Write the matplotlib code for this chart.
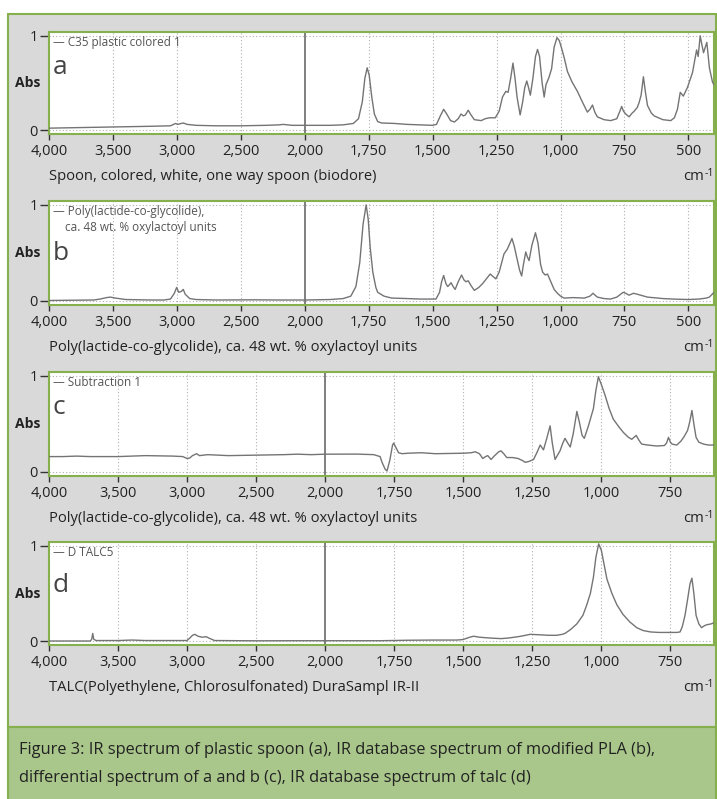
import numpy as np
import matplotlib.pyplot as plt
from matplotlib.patches import Rectangle

plt.rcParams['font.family'] = ['Open Sans', 'DejaVu Sans']

# ---- data (wavenumber cm-1, absorbance) ----
a_wn = [4000, 3800, 3600, 3400, 3200, 3050, 3010, 2995, 2950, 2920, 2850, 2700, 2500, 2300, 2200, 2170,
        2100, 2000, 1900, 1850, 1810, 1790, 1775, 1765, 1756, 1748, 1738, 1728, 1715, 1700, 1650, 1600,
        1550, 1500, 1485, 1470, 1457, 1445, 1430, 1415, 1400, 1389, 1380, 1372, 1361, 1350, 1337, 1310,
        1295, 1278, 1255, 1240, 1227, 1214, 1205, 1195, 1186, 1178, 1170, 1158, 1148, 1140, 1132, 1125,
        1118, 1108, 1098, 1090, 1082, 1072, 1064, 1057, 1045, 1035, 1025, 1014, 1005, 995, 985, 973,
        955, 934, 915, 895, 885, 875, 866, 856, 830, 804, 780, 768, 761, 754, 745, 732, 720, 712, 700,
        693, 685, 676, 668, 660, 645, 634, 600, 569, 555, 543, 532, 520, 504, 484, 468, 462, 454, 447,
        441, 434, 428, 418, 406, 400]
a_abs = [0.02, 0.025, 0.03, 0.035, 0.04, 0.045, 0.07, 0.06, 0.075, 0.06, 0.05, 0.045, 0.045, 0.05, 0.055, 0.06,
         0.05, 0.05, 0.05, 0.055, 0.07, 0.12, 0.3, 0.55, 0.66, 0.58, 0.35, 0.17, 0.09, 0.075, 0.07, 0.06,
         0.055, 0.05, 0.06, 0.15, 0.22, 0.17, 0.1, 0.085, 0.12, 0.17, 0.15, 0.16, 0.21, 0.16, 0.11, 0.1,
         0.12, 0.13, 0.13, 0.2, 0.35, 0.41, 0.4, 0.55, 0.71, 0.55, 0.35, 0.16, 0.3, 0.45, 0.52, 0.45,
         0.37, 0.55, 0.78, 0.855, 0.78, 0.5, 0.35, 0.48, 0.56, 0.65, 0.88, 0.98, 0.95, 0.86, 0.76, 0.62,
         0.51, 0.41, 0.3, 0.19, 0.22, 0.265, 0.19, 0.14, 0.11, 0.1, 0.12, 0.2, 0.25, 0.2, 0.17, 0.14, 0.18, 0.2, 0.24,
         0.29, 0.37, 0.565, 0.4, 0.26, 0.18, 0.15, 0.11, 0.1, 0.13, 0.22, 0.4, 0.36, 0.45, 0.61, 0.85, 0.78, 1.0, 0.9,
         0.82, 0.88, 0.93, 0.66, 0.51, 0.48]

b_wn = [4000, 3800, 3650, 3600, 3550, 3520, 3480, 3400, 3200, 3100, 3050, 3020, 3002, 2985, 2965, 2950,
        2935, 2900, 2850, 2700, 2400, 2200, 2000, 1900, 1850, 1820, 1800, 1785, 1772, 1760, 1752, 1744,
        1734, 1722, 1715, 1690, 1660, 1600, 1550, 1487, 1473, 1465, 1457, 1448, 1441, 1434, 1428, 1420,
        1412, 1400, 1387, 1378, 1370, 1361, 1350, 1337, 1320, 1305, 1290, 1275, 1262, 1253, 1240, 1221,
        1208, 1198, 1190, 1181, 1171, 1160, 1152, 1145, 1136, 1130, 1123, 1112, 1098, 1088, 1078, 1070,
        1060, 1051, 1038, 1025, 1012, 1000, 986, 950, 907, 885, 873, 865, 856, 830, 804, 780, 765, 755,
        745, 732, 715, 700, 660, 600, 562, 500, 458, 430, 418, 400]
b_abs = [0.005, 0.008, 0.01, 0.02, 0.035, 0.04, 0.03, 0.015, 0.01, 0.01, 0.02, 0.08, 0.14, 0.09, 0.1, 0.12,
         0.07, 0.025, 0.015, 0.01, 0.012, 0.01, 0.01, 0.015, 0.025, 0.05, 0.15, 0.4, 0.8, 1.0, 0.85, 0.55,
         0.3, 0.14, 0.09, 0.05, 0.03, 0.025, 0.02, 0.02, 0.09, 0.2, 0.265, 0.18, 0.15, 0.17, 0.19, 0.15,
         0.12, 0.2, 0.27, 0.22, 0.2, 0.21, 0.16, 0.11, 0.14, 0.18, 0.23, 0.28, 0.25, 0.23, 0.3, 0.49,
         0.54, 0.6, 0.65, 0.57, 0.45, 0.32, 0.26, 0.38, 0.51, 0.46, 0.42, 0.58, 0.71, 0.6, 0.38, 0.3,
         0.27, 0.28, 0.2, 0.12, 0.08, 0.05, 0.03, 0.035, 0.03, 0.05, 0.08, 0.06, 0.04, 0.025, 0.02, 0.04, 0.07, 0.09,
         0.08, 0.06, 0.08, 0.07, 0.04, 0.025, 0.02, 0.015, 0.02, 0.03, 0.04, 0.09]

c_wn = [4000, 3900, 3800, 3700, 3500, 3300, 3100, 3030, 3000, 2980, 2960, 2930, 2910, 2880, 2850, 2700,
        2500, 2300, 2200, 2100, 2000, 1884, 1823, 1800, 1793, 1782, 1775, 1765, 1755, 1751, 1742, 1733,
        1720, 1700, 1650, 1600, 1500, 1470, 1455, 1440, 1428, 1418, 1410, 1398, 1385, 1370, 1362, 1352,
        1341, 1320, 1300, 1285, 1274, 1260, 1244, 1232, 1220, 1208, 1196, 1184, 1176, 1166, 1158, 1148,
        1138, 1130, 1120, 1111, 1100, 1087, 1078, 1068, 1060, 1045, 1027, 1018, 1009, 997, 985, 970,
        955, 935, 918, 900, 888, 880, 872, 862, 852, 830, 797, 770, 762, 755, 748, 742, 725, 710, 700,
        686, 678, 670, 663, 655, 645, 628, 610, 592]
c_abs = [0.16, 0.16, 0.165, 0.16, 0.16, 0.17, 0.165, 0.16, 0.14, 0.145, 0.17, 0.19, 0.17, 0.175, 0.18, 0.17,
         0.175, 0.18, 0.185, 0.18, 0.185, 0.186, 0.18, 0.16, 0.1, 0.03, 0.01, 0.12, 0.28, 0.3, 0.25, 0.2,
         0.19, 0.195, 0.2, 0.19, 0.195, 0.2, 0.21, 0.19, 0.14, 0.16, 0.17, 0.13, 0.17, 0.21, 0.22, 0.19,
         0.15, 0.15, 0.14, 0.12, 0.1, 0.11, 0.13, 0.2, 0.28, 0.23, 0.35, 0.48, 0.3, 0.13, 0.17, 0.22,
         0.3, 0.35, 0.3, 0.26, 0.4, 0.63, 0.52, 0.38, 0.35, 0.48, 0.66, 0.85, 0.99, 0.9, 0.8, 0.66,
         0.55, 0.47, 0.41, 0.36, 0.34, 0.36, 0.38, 0.33, 0.29, 0.28, 0.27, 0.275, 0.3, 0.36, 0.31, 0.29, 0.28, 0.32, 0.36,
         0.43, 0.52, 0.64, 0.5, 0.36, 0.31, 0.29, 0.28, 0.28]

d_wn = [4000, 3800, 3700, 3690, 3683, 3676, 3660, 3500, 3400, 3300, 3100, 3000, 2980, 2960, 2942, 2920,
        2890, 2860, 2840, 2800, 2500, 2200, 2000, 1800, 1700, 1600, 1522, 1500, 1475, 1461, 1440, 1420,
        1395, 1362, 1340, 1325, 1290, 1256, 1220, 1190, 1160, 1140, 1130, 1110, 1087, 1065, 1051, 1038,
        1027, 1018, 1008, 998, 988, 978, 960, 942, 920, 895, 870, 847, 820, 790, 750, 725, 713, 705,
        695, 685, 677, 670, 663, 655, 645, 635, 625, 617, 600, 592]
d_abs = [0.0, 0.0, 0.0, 0.02, 0.08, 0.02, 0.005, 0.005, 0.01, 0.005, 0.005, 0.005, 0.03, 0.06, 0.07, 0.05,
         0.04, 0.045, 0.03, 0.005, 0.002, 0.003, 0.003, 0.003, 0.008, 0.01, 0.01, 0.015, 0.04, 0.05, 0.04, 0.035,
         0.03, 0.025, 0.03, 0.035, 0.05, 0.07, 0.065, 0.06, 0.06, 0.07, 0.08, 0.12, 0.18, 0.27, 0.38, 0.5,
         0.67, 0.88, 1.02, 0.95, 0.8, 0.65, 0.5, 0.38, 0.28, 0.2, 0.14, 0.11, 0.095, 0.09, 0.09, 0.09, 0.095, 0.15,
         0.27, 0.45, 0.6, 0.66, 0.5, 0.27, 0.18, 0.14, 0.16, 0.17, 0.18, 0.19]

ticks_ab = [4000, 3500, 3000, 2500, 2000, 1750, 1500, 1250, 1000, 750, 500]
ticks_cd = [4000, 3500, 3000, 2500, 2000, 1750, 1500, 1250, 1000, 750]

panel_letters = ['a', 'b', 'c', 'd']
legend_texts = ['— C35 plastic colored 1',
                '— Poly(lactide-co-glycolide),\n    ca. 48 wt. % oxylactoyl units',
                '— Subtraction 1',
                '— D TALC5']
descriptions = ['Spoon, colored, white, one way spoon (biodore)',
                'Poly(lactide-co-glycolide), ca. 48 wt. % oxylactoyl units',
                'Poly(lactide-co-glycolide), ca. 48 wt. % oxylactoyl units',
                'TALC(Polyethylene, Chlorosulfonated) DuraSampl IR-II']
caption = ['Figure 3: IR spectrum of plastic spoon (a), IR database spectrum of modified PLA (b),',
           'differential spectrum of a and b (c), IR database spectrum of talc (d)']

spectra = [(a_wn, a_abs), (b_wn, b_abs), (c_wn, c_abs), (d_wn, d_abs)]
xticks = [ticks_ab, ticks_ab, ticks_cd, ticks_cd]
x_right = [400, 400, 590, 590]

# ---- layout (pixels of a 717x799 picture) ----
W, H = 717, 799
GREEN = '#86b04e'
tops = [32, 201, 372, 542]
bottoms = [134, 305, 476, 645]


def fx(px):
    return px / W


def fy(py):
    return 1 - py / H


# x axis is twice as stretched below 2000 cm-1
def fwd(x):
    x = np.asarray(x, dtype=float)
    return np.where(x >= 2000, x, 2 * x - 2000)


def inv(u):
    u = np.asarray(u, dtype=float)
    return np.where(u >= 2000, u, (u + 2000) / 2)


fig = plt.figure(figsize=(W / 100, H / 100), dpi=100)
fig.patch.set_facecolor('white')

fig.add_artist(Rectangle((fx(8), fy(727)), fx(708), 713 / H, transform=fig.transFigure,
                         fc='#d9d9d9', ec=GREEN, lw=1.5, zorder=-2))
fig.add_artist(Rectangle((fx(8), fy(802)), fx(708), 75 / H, transform=fig.transFigure,
                         fc='#a9c68b', ec=GREEN, lw=1.5, zorder=-2))

for i in range(4):
    top, bot = tops[i], bottoms[i]
    ax = fig.add_axes([fx(49), fy(bot), fx(714 - 49), (bot - top) / H])
    ax.set_facecolor('white')
    ax.set_xscale('function', functions=(fwd, inv))
    wn, ab = spectra[i]
    ax.plot(wn, ab, color='#747474', lw=1.0, zorder=3)
    ax.set_xlim(4000, x_right[i])
    ax.set_ylim(-0.042, 1.04)

    ax.set_xticks(xticks[i])
    ax.set_xticklabels([f'{t:,}' for t in xticks[i]])
    ax.xaxis.set_minor_locator(plt.NullLocator())
    ax.set_yticks([0, 1])
    ax.set_yticklabels(['0', '1'])
    ax.tick_params(axis='x', direction='out', length=4.5, width=1, color='#333',
                   labelsize=10.5, pad=3, labelcolor='#222')
    ax.tick_params(axis='y', direction='out', length=6.5, width=1, color='#333',
                   labelsize=10.5, pad=1.5, labelcolor='#222')

    for t in xticks[i]:
        if t == 2000:
            ax.axvline(t, color='#6a6a6a', lw=1.2, zorder=2)
        elif t != 4000:
            ax.axvline(t, color='#b0b0b0', lw=0.8, ls=(0, (1, 2)), zorder=1)
    for yv in (0, 1):
        ax.axhline(yv, color='#b0b0b0', lw=0.8, ls=(0, (1, 2)), zorder=1)

    for sp in ax.spines.values():
        sp.set_color(GREEN)
        sp.set_linewidth(1.5)

    ax.text(0.006, 1 - 4 / (bot - top), legend_texts[i], transform=ax.transAxes,
            fontsize=8.5, color='#555', va='top', ha='left', linespacing=1.25)
    fig.text(fx(53), fy(top + [36, 52, 36, 43][i]), panel_letters[i], fontsize=19,
             color='#444', va='center', ha='left')
    fig.text(fx(15), fy((top + bot) / 2), 'Abs', fontsize=10, fontweight='bold',
             color='#222', va='center', ha='left')
    fig.text(fx(49), fy(bot + 46), descriptions[i], fontsize=10.6, color='#222',
             va='baseline', ha='left')
    fig.text(fx(704), fy(bot + 46), 'cm', fontsize=10.6, color='#222',
             va='baseline', ha='right')
    fig.text(fx(704.5), fy(bot + 45), '-1', fontsize=7.5, color='#222',
             va='bottom', ha='left')

fig.text(fx(19), fy(750), caption[0], fontsize=11.8, color='#222', va='center', ha='left')
fig.text(fx(19), fy(778), caption[1], fontsize=11.8, color='#222', va='center', ha='left')

fig.savefig('out.png', dpi=100)
